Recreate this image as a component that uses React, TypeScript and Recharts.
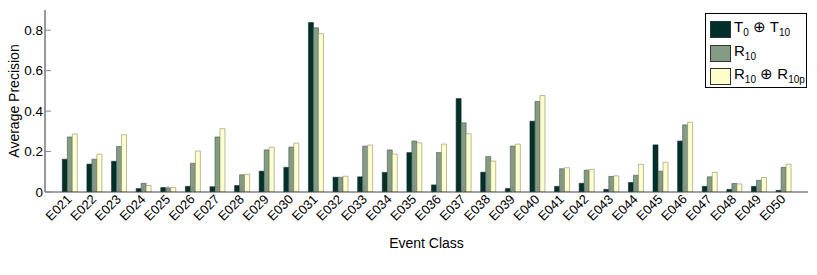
import React from 'react';
import { BarChart, Bar, XAxis, YAxis, Legend } from 'recharts';

const categories = ['E021','E022','E023','E024','E025','E026','E027','E028','E029','E030','E031','E032','E033','E034','E035','E036','E037','E038','E039','E040','E041','E042','E043','E044','E045','E046','E047','E048','E049','E050'];
const t0t10 = [0.162,0.138,0.152,0.017,0.022,0.028,0.026,0.032,0.103,0.122,0.838,0.073,0.075,0.097,0.195,0.035,0.462,0.098,0.017,0.350,0.028,0.043,0.013,0.047,0.233,0.252,0.028,0.013,0.028,0.008];
const r10 = [0.272,0.162,0.225,0.043,0.020,0.142,0.272,0.085,0.208,0.222,0.812,0.073,0.227,0.208,0.252,0.195,0.342,0.175,0.227,0.448,0.115,0.108,0.077,0.083,0.103,0.332,0.075,0.042,0.058,0.122];
const r10r10p = [0.287,0.187,0.283,0.032,0.022,0.203,0.313,0.088,0.222,0.242,0.783,0.078,0.232,0.187,0.243,0.237,0.288,0.153,0.237,0.477,0.120,0.112,0.080,0.137,0.147,0.345,0.097,0.040,0.072,0.137];
const yTicks = [0, 0.2, 0.4, 0.6, 0.8];

const COLORS = { a: '#00302b', b: '#849c84', c: '#ffffcc' };
const FONT = '"Liberation Sans", Arial, Helvetica, sans-serif';

const data = categories.map((name, i) => ({ name, a: t0t10[i], b: r10[i], c: r10r10p[i] }));

const XTick = (props: any) => {
  const { x, y, payload } = props;
  const ax = x + 3;
  const ay = y + 3;
  return (
    <text x={ax} y={ay} transform={`rotate(-45 ${ax} ${ay})`} textAnchor="end" fontSize={13} fontFamily={FONT} fill="#000">
      {payload.value}
    </text>
  );
};

const YLabel = (props: any) => {
  const vb = props.viewBox;
  const cx = vb.x + 19;
  const cy = vb.y + vb.height / 2;
  return (
    <text x={cx} y={cy} transform={`rotate(-90 ${cx} ${cy})`} textAnchor="middle" fontSize={14} fontFamily={FONT} fill="#000">
      Average Precision
    </text>
  );
};

const sub: React.CSSProperties = { fontSize: 10, verticalAlign: 'baseline', position: 'relative', top: 4 };

const LegendContent = () => {
  const rows = [
    { color: COLORS.a, label: <span>T<sub style={sub}>0</sub> ⊕ T<sub style={sub}>10</sub></span> },
    { color: COLORS.b, label: <span>R<sub style={sub}>10</sub></span> },
    { color: COLORS.c, label: <span>R<sub style={sub}>10</sub> ⊕ R<sub style={sub}>10p</sub></span> },
  ];
  return (
    <div style={{ border: '1px solid #000', background: '#fff', boxSizing: 'border-box', width: 102, height: 75, padding: '4px 0 0 4px', fontFamily: FONT, fontSize: 15, color: '#000', overflow: 'hidden' }}>
      {rows.map((r, i) => (
        <div key={i} style={{ display: 'flex', alignItems: 'center', height: 23.5 }}>
          <div style={{ width: 21, height: 17, background: r.color, border: '1px solid #333', boxSizing: 'border-box', marginRight: 3, flexShrink: 0 }} />
          <div style={{ whiteSpace: 'nowrap', lineHeight: '16px', marginTop: -3 }}>{r.label}</div>
        </div>
      ))}
    </div>
  );
};

export default function App() {
  return (
    <div style={{ position: 'absolute', left: 0, top: 0 }}>
      <BarChart width={817} height={275} data={data} margin={{ top: 10, right: 9, bottom: 23, left: 0 }} barGap={0} barSize={5}>
        <XAxis dataKey="name" interval={0} height={60} padding={{ left: 12.3, right: 12.3 }}
          tickSize={-6} tickMargin={11} tick={<XTick />} axisLine={{ stroke: '#444' }} tickLine={{ stroke: '#888' }}
          label={{ value: 'Event Class', position: 'insideBottom', offset: 4, fontSize: 14, fontFamily: FONT, fill: '#000' }} />
        <XAxis xAxisId="top" dataKey="name" orientation="top" interval={0} height={0} padding={{ left: 12.3, right: 12.3 }}
          tickSize={-6} tick={false} axisLine={{ stroke: '#333' }} tickLine={{ stroke: '#888' }} />
        <YAxis domain={[0, 0.9]} ticks={yTicks} width={45} tickSize={-6} tickMargin={8} allowDataOverflow
          tickFormatter={(v: number) => (v === 0 ? '0' : String(v))}
          tick={{ fontSize: 13.5, fontFamily: FONT, fill: '#000' }} axisLine={{ stroke: '#333' }} tickLine={{ stroke: '#888' }}
          label={<YLabel />} />
        <YAxis yAxisId="right" orientation="right" domain={[0, 0.9]} ticks={yTicks} width={0} tickSize={-6} allowDataOverflow
          tick={false} axisLine={{ stroke: '#333' }} tickLine={{ stroke: '#888' }} />
        <Legend layout="vertical" align="center" verticalAlign="middle" content={<LegendContent />}
          wrapperStyle={{ position: 'absolute', left: 705, top: 13, width: 102, height: 75 }} />
        <Bar dataKey="a" name="T0 ⊕ T10" fill={COLORS.a} stroke="#1a2a28" strokeWidth={0.6} isAnimationActive={false} />
        <Bar dataKey="b" name="R10" fill={COLORS.b} stroke="#4a564a" strokeWidth={0.6} isAnimationActive={false} />
        <Bar dataKey="c" name="R10 ⊕ R10p" fill={COLORS.c} stroke="#8a8a70" strokeWidth={0.6} isAnimationActive={false} />
      </BarChart>
    </div>
  );
}
